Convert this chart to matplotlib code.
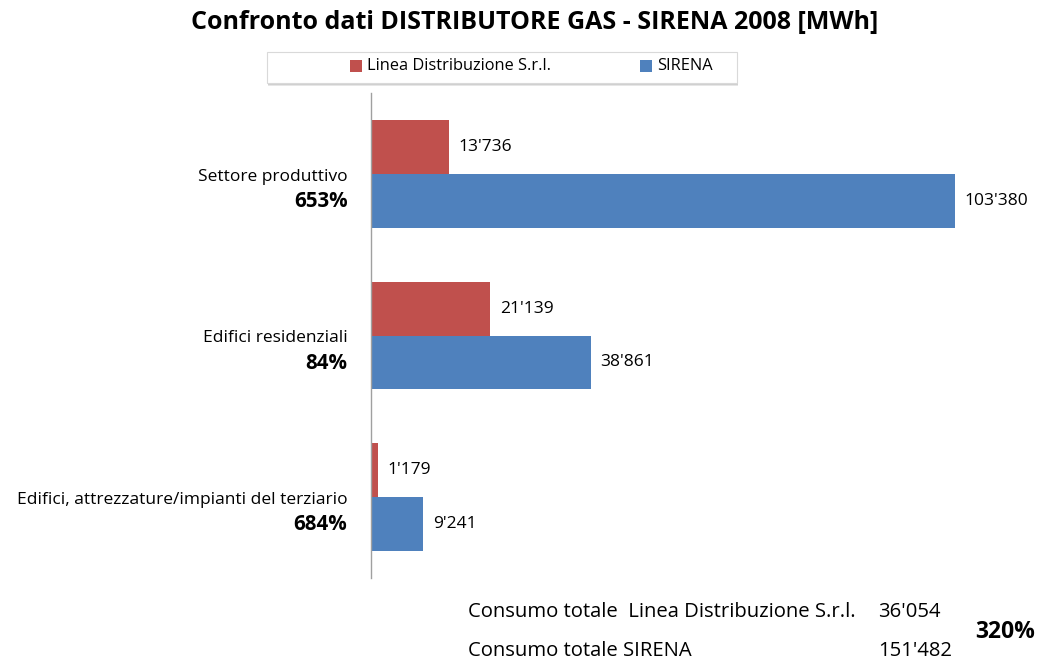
import matplotlib
matplotlib.use("Agg")
import matplotlib.pyplot as plt
from matplotlib.patches import Rectangle

plt.rcParams['font.family'] = ['Open Sans', 'DejaVu Sans']

categories = ["Settore produttivo", "Edifici residenziali", "Edifici, attrezzature/impianti del terziario"]
pct_labels = ["653%", "84%", "684%"]
linea = [13736, 21139, 1179]
sirena = [103380, 38861, 9241]
series_names = ["Linea Distribuzione S.r.l.", "SIRENA"]
total_linea = 36054
total_sirena = 151482
total_pct = "320%"

RED = "#C0504D"
BLUE = "#4F81BD"

def fmt(v):
    return f"{v:,}".replace(",", "'")

W, H = 1040, 662
fig = plt.figure(figsize=(W/100, H/100), dpi=100)
ax = fig.add_axes([371/W, (H-578)/H, 621.4/W, 485/H])

n = len(categories)
ys = list(range(n))
bh = 1/3
ax.barh([y - bh/2 for y in ys], linea, height=bh, color=RED, edgecolor="none")
ax.barh([y + bh/2 for y in ys], sirena, height=bh, color=BLUE, edgecolor="none")
ax.set_xlim(0, 110000)
ax.set_ylim(n - 0.5, -0.5)
for s in ["top", "right", "bottom"]:
    ax.spines[s].set_visible(False)
ax.spines["left"].set_color("#A0A0A0")
ax.spines["left"].set_linewidth(1.0)
ax.set_xticks([])
ax.set_yticks([])

for y, v in zip(ys, linea):
    ax.annotate(fmt(v), (v, y - bh/2), xytext=(7, 0), textcoords="offset points",
                va="center", ha="left", fontsize=12.5)
for y, v in zip(ys, sirena):
    ax.annotate(fmt(v), (v, y + bh/2), xytext=(7, 0), textcoords="offset points",
                va="center", ha="left", fontsize=12.5)

for y, c, p in zip(ys, categories, pct_labels):
    ax.annotate(c, (0, y), xytext=(-17, -2), textcoords="offset points",
                ha="right", va="center", fontsize=12.5)
    ax.annotate(p, (0, y), xytext=(-17, -20), textcoords="offset points",
                ha="right", va="center", fontsize=14.8, fontweight="bold")

# Title
fig.text(535/W, 1 - 22/H, "Confronto dati DISTRIBUTORE GAS - SIRENA 2008 [MWh]",
         ha="center", va="center", fontsize=18, fontweight="bold")

# Legend box with shadow
for i, c in enumerate(["#E6E6E6", "#D0D0D0", "#B8B8B8"]):
    off = 3 - i
    fig.add_artist(Rectangle((267/W + 1/W, 1 - (83 + off)/H), 470/W, 31/H,
                             transform=fig.transFigure, facecolor=c,
                             edgecolor="none", zorder=1))
box = Rectangle((267/W, 1 - 83/H), 470/W, 31/H, transform=fig.transFigure,
                facecolor="white", edgecolor="#D9D9D9", linewidth=0.8, zorder=2)
fig.add_artist(box)
for xp, col, name in [(350, RED, series_names[0]), (640, BLUE, series_names[1])]:
    fig.add_artist(Rectangle((xp/W, 1 - 72/H), 12/W, 12/H, transform=fig.transFigure,
                             facecolor=col, edgecolor="none", zorder=3))
    fig.text((xp + 17)/W, 1 - 66/H, name, ha="left", va="center", fontsize=11.8, zorder=4)

# Bottom totals
fig.text(468/W, 1 - 612/H, "Consumo totale  " + series_names[0], ha="left", va="center", fontsize=14.6)
fig.text(878/W, 1 - 612/H, fmt(total_linea), ha="left", va="center", fontsize=14.6)
fig.text(468/W, 1 - 651/H, "Consumo totale " + series_names[1], ha="left", va="center", fontsize=14.6)
fig.text(878/W, 1 - 651/H, fmt(total_sirena), ha="left", va="center", fontsize=14.6)
fig.text(975/W, 1 - 632/H, total_pct, ha="left", va="center", fontsize=16.5, fontweight="bold")

fig.savefig("out.png", dpi=100)
